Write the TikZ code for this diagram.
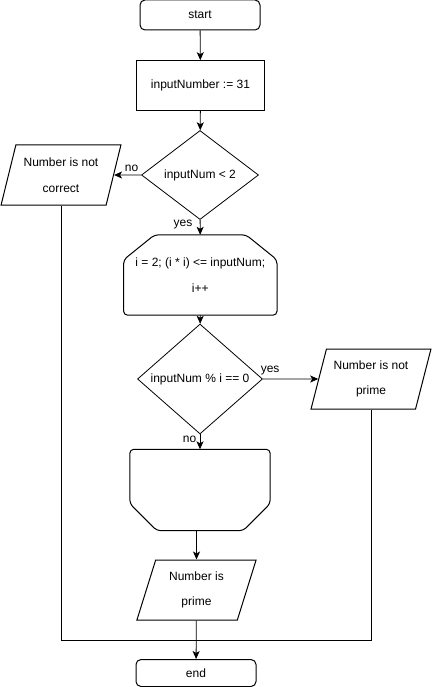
\documentclass[tikz,border=0pt]{standalone}
\usepackage{fontspec}
\setmainfont{Liberation Sans}
\usetikzlibrary{arrows.meta,shapes.geometric}
\begin{document}
\begin{tikzpicture}[x=1pt,y=-1pt,
    txt/.style={font=\fontsize{12}{25.5}\selectfont,align=center},
    terminal/.style={txt,draw,line width=1pt,rounded corners=5pt,minimum width=120pt,minimum height=#1},
    process/.style={txt,draw,line width=1pt,minimum width=128pt,minimum height=50pt},
    decision/.style={txt,diamond,draw,line width=0.8pt,inner sep=0pt},
    io/.style={txt,trapezium,trapezium left angle=72,trapezium right angle=108,
      trapezium stretches=true,draw,line width=1pt,minimum width=120pt,minimum height=60pt},
    loopbox/.style={txt,minimum width=#1},
    outline/.style={line width=1pt,rounded corners=4pt},
    arr/.style={-{Stealth[length=8pt,width=7pt,inset=2pt]},line width=0.8pt},
    lbl/.style={font=\fontsize{12}{14}\selectfont}]
  \useasboundingbox (0,0) rectangle (432,687);

  \node (start) at (200,15) [terminal=30pt]{start};
  \node (init) at (200.5,85.7) [process]{inputNumber := 31};
  \node (d1) at (200,175) [decision,minimum width=117pt,minimum height=89pt]{inputNum < 2};
  \node (notcorrect) at (61,175) [io]{Number is not\\correct};
  \node (loopstart) at (200.3,275) [loopbox=153pt,minimum height=80pt]{i = 2; (i * i) <= inputNum;\\i++};
  \node (d2) at (200,379) [decision,minimum width=125pt,minimum height=101pt]{inputNum \% i == 0};
  \node (notprime) at (371,379) [io]{Number is not\\prime};
  \node (loopend) at (200,490) [loopbox=140pt,minimum height=81pt]{};
  \node (isprime) at (196.5,590) [io]{Number is\\prime};
  \node (end) at (196,673) [terminal=27pt]{end};
  \coordinate (merge) at (0,640);

  % loop limit shapes
  \draw[outline] ([xshift=31pt]loopstart.north west) -- ([xshift=-31pt]loopstart.north east)
    -- ([yshift=-25pt]loopstart.north east) -- (loopstart.south east)
    -- (loopstart.south west) -- ([yshift=-25pt]loopstart.north west) -- cycle;
  \draw[outline] (loopend.north west) -- (loopend.north east)
    -- ([yshift=27pt]loopend.south east) -- ([xshift=-27pt]loopend.south east)
    -- ([xshift=27pt]loopend.south west) -- ([yshift=27pt]loopend.south west) -- cycle;

  \draw[arr] (start) -- (init);
  \draw[arr] (init) -- (d1);
  \draw[arr] (d1) -- node[lbl,above,pos=0.35]{no} (notcorrect);
  \draw[arr] (d1) -- node[lbl,left,pos=0.3,xshift=-4pt]{yes} (loopstart);
  \draw[arr] (loopstart) -- (d2);
  \draw[arr] (d2) -- node[lbl,above,pos=0.13]{yes} (notprime);
  \draw[arr] (d2) -- node[lbl,left,pos=0.35]{no} (loopend);
  \draw[arr] (isprime |- loopend.south) -- (isprime);
  \draw[arr] (isprime) -- (end);

  \draw[line width=0.8pt] (notcorrect) -- (notcorrect |- merge) -- (notprime |- merge) -- (notprime);

\end{tikzpicture}
\end{document}
